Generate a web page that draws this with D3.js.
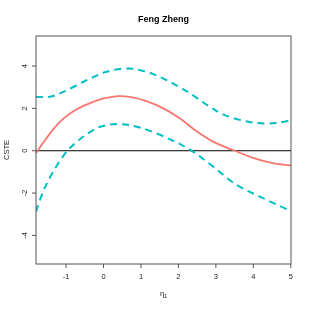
<!DOCTYPE html>
<html>
<head>
<meta charset="utf-8">
<script src="https://cdn.jsdelivr.net/npm/d3@7"></script>
<style>
  body { margin: 0; background: #fff; }
  svg { display: block; font-family: "Liberation Sans", Arial, sans-serif; will-change: transform; }
</style>
</head>
<body>
<div id="chart"></div>
<script>
`use strict`;

// estimate curve
const estX = [-1.79, -1.58, -1.31, -1.05, -0.69, -0.33, 0.02, 0.42, 0.75, 1.16, 1.61, 2.05, 2.50, 2.94, 3.30, 3.52, 3.97, 4.50, 5.02];
const estY = [-0.12, 0.42, 1.06, 1.53, 1.97, 2.26, 2.47, 2.58, 2.53, 2.34, 2.00, 1.53, 0.92, 0.43, 0.15, 0.0, -0.31, -0.57, -0.69];

// upper band
const upX = [-1.79, -1.42, -1.06, -0.44, 0.09, 0.63, 1.16, 1.70, 2.32, 2.85, 3.25, 3.88, 4.32, 4.72, 5.02];
const upY = [2.55, 2.55, 2.78, 3.33, 3.73, 3.89, 3.73, 3.33, 2.71, 2.08, 1.68, 1.37, 1.29, 1.33, 1.45];

// lower band
const loX = [-1.79, -1.60, -1.33, -0.95, -0.53, -0.08, 0.45, 0.98, 1.79, 2.41, 2.94, 3.57, 4.19, 5.02];
const loY = [-2.88, -1.93, -0.99, 0.0, 0.66, 1.13, 1.26, 1.10, 0.54, -0.05, -0.75, -1.62, -2.17, -2.85];

const xTicks = [-1, 0, 1, 2, 3, 4, 5];
const yTicks = [-4, -2, 0, 2, 4];

const W = 310, H = 310;
const M = {top: 36, right: 19, bottom: 46, left: 36};

const svg = d3.select(`#chart`).append(`svg`)
  .attr(`width`, W)
  .attr(`height`, H);

const x = d3.scaleLinear().domain([-1.79, 5.02]).range([M.left, W - M.right]);
const y = d3.scaleLinear().domain([-5.35, 5.42]).range([H - M.bottom, M.top]);

svg.append(`clipPath`).attr(`id`, `clip`)
  .append(`rect`)
  .attr(`x`, M.left).attr(`y`, M.top)
  .attr(`width`, W - M.left - M.right)
  .attr(`height`, H - M.top - M.bottom);

const plot = svg.append(`g`).attr(`clip-path`, `url(#clip)`);

// zero line
plot.append(`line`)
  .attr(`x1`, M.left).attr(`x2`, W - M.right)
  .attr(`y1`, y(0)).attr(`y2`, y(0))
  .attr(`stroke`, `#000`)
  .style(`stroke-width`, 1);

const line = d3.line()
  .x(d => x(d[0]))
  .y(d => y(d[1]))
  .curve(d3.curveCatmullRom.alpha(0.5));

[[upX, upY], [loX, loY]].forEach(s => {
  plot.append(`path`)
    .datum(d3.zip(s[0], s[1]))
    .attr(`d`, line)
    .attr(`fill`, `none`)
    .attr(`stroke`, `#00BFC4`)
    .attr(`stroke-dasharray`, `7,5`)
    .style(`stroke-width`, 2);
});

plot.append(`path`)
  .datum(d3.zip(estX, estY))
  .attr(`d`, line)
  .attr(`fill`, `none`)
  .attr(`stroke`, `#F8766D`)
  .style(`stroke-width`, 1.8);

// box
svg.append(`rect`)
  .attr(`x`, M.left).attr(`y`, M.top)
  .attr(`width`, W - M.left - M.right)
  .attr(`height`, H - M.top - M.bottom)
  .attr(`fill`, `none`)
  .attr(`stroke`, `#555`)
  .style(`stroke-width`, 1);

// axes (plain hyphen minus, like the original)
const fmt = d => String(d);

const xAxis = svg.append(`g`)
  .attr(`transform`, `translate(0,${H - M.bottom})`)
  .call(d3.axisBottom(x).tickValues(xTicks).tickSize(4).tickPadding(6).tickFormat(fmt));

const yAxis = svg.append(`g`)
  .attr(`transform`, `translate(${M.left},0)`)
  .call(d3.axisLeft(y).tickValues(yTicks).tickSize(4).tickPadding(8).tickFormat(fmt));

[xAxis, yAxis].forEach(g => {
  g.select(`.domain`).remove();
  g.selectAll(`line`).attr(`stroke`, `#555`);
  g.selectAll(`text`)
    .attr(`fill`, `#222`)
    .style(`font-size`, `7.5px`)
    .style(`font-family`, `"Liberation Sans", Arial, sans-serif`);
});

yAxis.selectAll(`.tick`).attr(`transform`, null);
yAxis.selectAll(`.tick line`)
  .attr(`y1`, d => y(d)).attr(`y2`, d => y(d));
yAxis.selectAll(`text`)
  .attr(`text-anchor`, `middle`)
  .attr(`dy`, null)
  .attr(`x`, -12)
  .attr(`y`, d => y(d) + 3)
  .attr(`transform`, d => `rotate(-90, -12, ${y(d)})`);

// title
svg.append(`text`)
  .attr(`x`, (M.left + W - M.right) / 2)
  .attr(`y`, 22)
  .attr(`text-anchor`, `middle`)
  .style(`font-size`, `9px`)
  .style(`font-weight`, `bold`)
  .text(`Feng Zheng`);

// y label
svg.append(`text`)
  .attr(`transform`, `translate(9,${(M.top + H - M.bottom) / 2}) rotate(-90)`)
  .attr(`text-anchor`, `middle`)
  .attr(`fill`, `#222`)
  .style(`font-size`, `7.5px`)
  .text(`CSTE`);

// x label
const xl = svg.append(`text`)
  .attr(`x`, (M.left + W - M.right) / 2)
  .attr(`y`, 296)
  .attr(`text-anchor`, `middle`)
  .attr(`fill`, `#222`)
  .style(`font-size`, `7.5px`);
xl.append(`tspan`).text(`η`);
xl.append(`tspan`).attr(`dy`, 2).style(`font-size`, `5.5px`).text(`1`);
</script>
</body>
</html>
